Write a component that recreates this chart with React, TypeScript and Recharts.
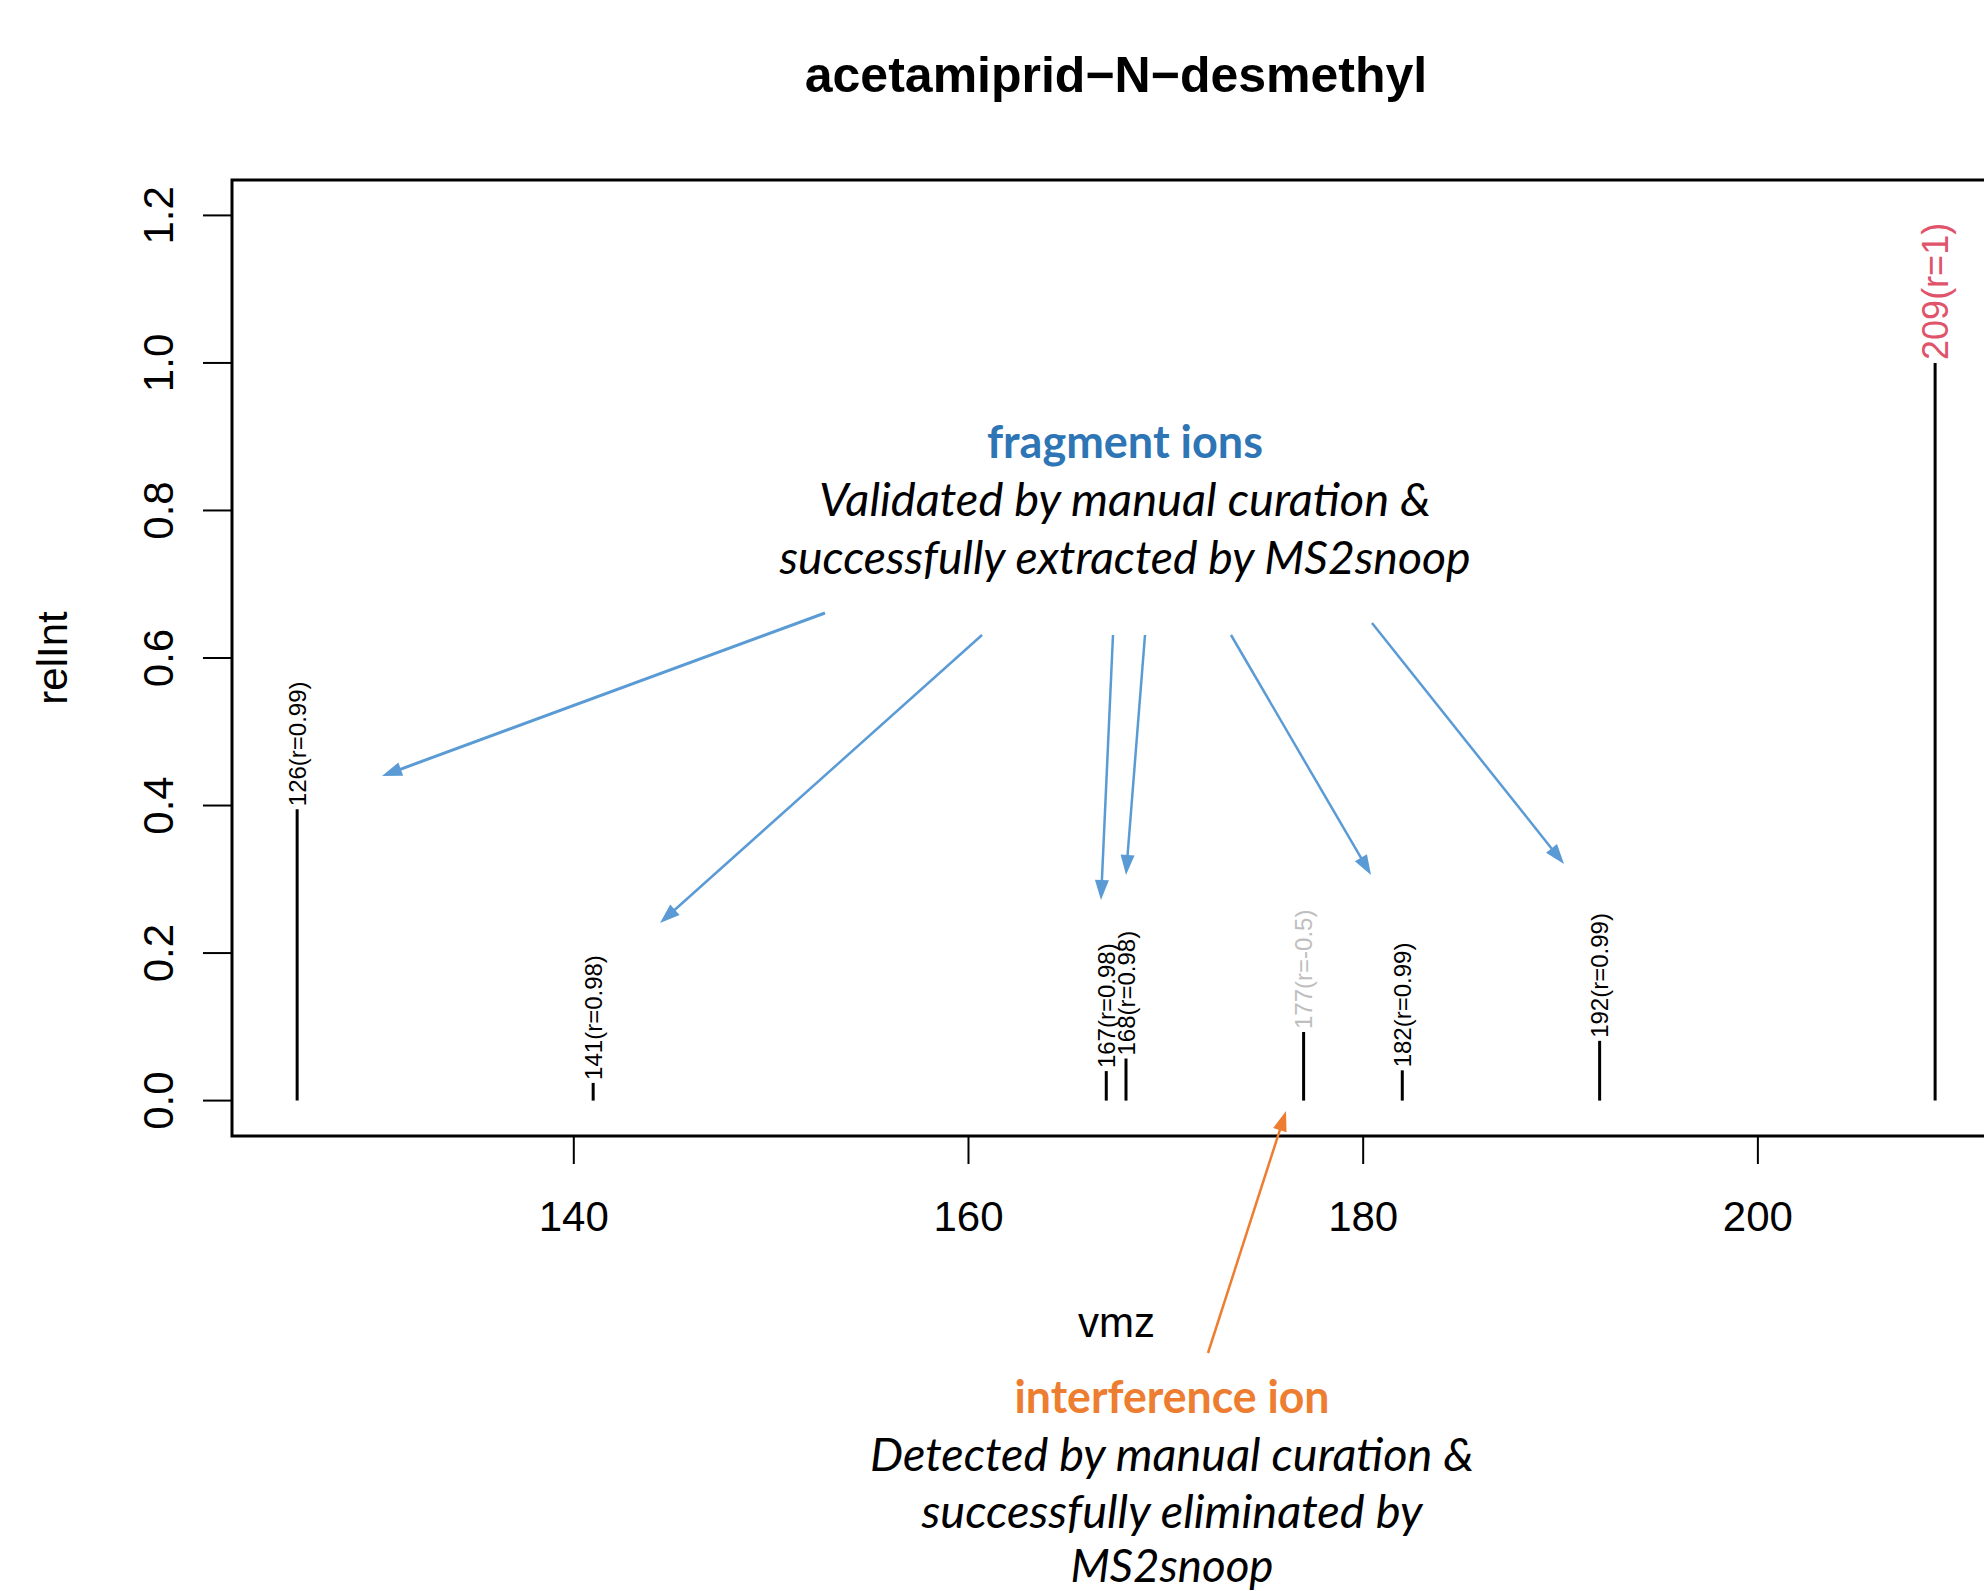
import React from 'react';
import { BarChart, Bar, XAxis, YAxis, LabelList, ReferenceArea, Label } from 'recharts';

// ---- data ----
const mzValues = [126, 141, 167, 168, 177, 182, 192, 209];
const relIntValues = [0.395, 0.024, 0.04, 0.057, 0.093, 0.041, 0.081, 1.0];
const corrValues = [0.99, 0.98, 0.98, 0.98, -0.5, 0.99, 0.99, 1];
const xTicks = [140, 160, 180, 200];
const yTicks = [0, 0.2, 0.4, 0.6, 0.8, 1.0, 1.2];
const yLimits = [0, 1.2];
const titleText = 'acetamiprid−N−desmethyl';
const xTitle = 'vmz';
const yTitle = 'relInt';

const rows = mzValues.map((mz, i) => ({
  mz,
  relInt: relIntValues[i],
  r: corrValues[i],
  label: `${mz}(r=${corrValues[i]})`,
}));

// R-style 4% axis extension
const xMin = Math.min(...mzValues);
const xMax = Math.max(...mzValues);
const xPad = (xMax - xMin) * 0.04;
const xDomain: [number, number] = [xMin - xPad, xMax + xPad];
const yPad = (yLimits[1] - yLimits[0]) * 0.04;
const yDomain: [number, number] = [yLimits[0] - yPad, yLimits[1] + yPad];

const RFONT = '"Liberation Sans", Arial, Helvetica, sans-serif';
const NOTE_FONT = 'Lato, "Open Sans", sans-serif';

const XTick = (props: any) => {
  const { x, y, payload } = props;
  return (
    <text x={x} y={y + 67} textAnchor="middle" fontSize={42} fontFamily={RFONT} fill="#000">
      {payload.value}
    </text>
  );
};

const YTick = (props: any) => {
  const { x, y, payload } = props;
  return (
    <text
      transform={`translate(${x - 30},${y}) rotate(-90)`}
      textAnchor="middle"
      fontSize={42}
      fontFamily={RFONT}
      fill="#000"
    >
      {Number(payload.value).toFixed(1)}
    </text>
  );
};

const PeakLabel = (props: any) => {
  const { x, y, width, value, index } = props;
  const r = rows[index]?.r ?? 1;
  const isPrecursor = r === 1;
  const color = isPrecursor ? '#DF536B' : r < 0.9 ? '#BEBEBE' : '#000';
  const size = isPrecursor ? 36 : 24;
  const cx = x + width / 2;
  return (
    <text
      transform={`translate(${cx},${y - 3}) rotate(-90)`}
      textAnchor="start"
      dominantBaseline="central"
      fontSize={size}
      fontFamily={RFONT}
      fill={color}
    >
      {value}
    </text>
  );
};

const YTitle = (props: any) => {
  const vb = props.viewBox || { x: 0, y: 180, width: 232, height: 956 };
  return (
    <text
      transform={`translate(${vb.x + 67},${vb.y + vb.height / 2}) rotate(-90)`}
      textAnchor="middle"
      fontSize={42}
      fontFamily={RFONT}
      fill="#000"
    >
      {yTitle}
    </text>
  );
};

const XTitle = (props: any) => {
  const vb = props.viewBox || { x: 232, y: 1136, width: 1769, height: 100 };
  return (
    <text x={vb.x + vb.width / 2} y={vb.y + 201} textAnchor="middle" fontSize={42} fontFamily={RFONT} fill="#000">
      {xTitle}
    </text>
  );
};

type Arrow = { x1: number; y1: number; x2: number; y2: number; color: string; w: number };
const arrowHead = (a: Arrow) => {
  const dx = a.x2 - a.x1;
  const dy = a.y2 - a.y1;
  const len = Math.hypot(dx, dy);
  const ux = dx / len;
  const uy = dy / len;
  const L = 20;
  const H = 7;
  const bx = a.x2 - ux * L;
  const by = a.y2 - uy * L;
  const p1 = `${a.x2},${a.y2}`;
  const p2 = `${bx - uy * H},${by + ux * H}`;
  const p3 = `${bx + uy * H},${by - ux * H}`;
  return { pts: `${p1} ${p2} ${p3}`, lx: a.x2 - ux * (L - 2), ly: a.y2 - uy * (L - 2) };
};

const BLUE = '#5B9BD5';
const ORANGE = '#ED7D31';
const arrows: Arrow[] = [
  { x1: 825, y1: 613, x2: 382, y2: 776, color: BLUE, w: 3 },
  { x1: 982, y1: 635, x2: 660, y2: 923, color: BLUE, w: 2.5 },
  { x1: 1113, y1: 635, x2: 1101, y2: 900, color: BLUE, w: 2.5 },
  { x1: 1145, y1: 635, x2: 1126, y2: 875, color: BLUE, w: 2.5 },
  { x1: 1231, y1: 635, x2: 1371, y2: 875, color: BLUE, w: 2.5 },
  { x1: 1372, y1: 623, x2: 1564, y2: 864, color: BLUE, w: 2.5 },
  { x1: 1208, y1: 1353, x2: 1286, y2: 1111, color: ORANGE, w: 2.5 },
];

const Overlay = () => (
  <svg
    width={1984}
    height={1591}
    style={{ position: 'absolute', left: 0, top: 0, pointerEvents: 'none' }}
  >
    <text x={1116} y={92} textAnchor="middle" fontSize={50} fontWeight="bold" fontFamily={RFONT} fill="#000">
      {titleText}
    </text>

    <text x={1125} y={458} textAnchor="middle" fontSize={46} fontWeight="bold" fontFamily={NOTE_FONT} fill="#2E75B6" textLength={276} lengthAdjust="spacingAndGlyphs">
      fragment ions
    </text>
    <text x={1125} y={516} textAnchor="middle" fontSize={46} fontStyle="italic" fontFamily={NOTE_FONT} fill="#000" textLength={612} lengthAdjust="spacingAndGlyphs">
      Validated by manual curation &amp;
    </text>
    <text x={1125} y={574} textAnchor="middle" fontSize={46} fontStyle="italic" fontFamily={NOTE_FONT} fill="#000" textLength={691} lengthAdjust="spacingAndGlyphs">
      successfully extracted by MS2snoop
    </text>

    <text x={1172} y={1413} textAnchor="middle" fontSize={46} fontWeight="bold" fontFamily={NOTE_FONT} fill={ORANGE} textLength={315} lengthAdjust="spacingAndGlyphs">
      interference ion
    </text>
    <text x={1172} y={1471} textAnchor="middle" fontSize={46} fontStyle="italic" fontFamily={NOTE_FONT} fill="#000" textLength={604} lengthAdjust="spacingAndGlyphs">
      Detected by manual curation &amp;
    </text>
    <text x={1172} y={1528} textAnchor="middle" fontSize={46} fontStyle="italic" fontFamily={NOTE_FONT} fill="#000" textLength={501} lengthAdjust="spacingAndGlyphs">
      successfully eliminated by
    </text>
    <text x={1172} y={1582} textAnchor="middle" fontSize={46} fontStyle="italic" fontFamily={NOTE_FONT} fill="#000" textLength={203} lengthAdjust="spacingAndGlyphs">
      MS2snoop
    </text>

    {arrows.map((a, i) => {
      const h = arrowHead(a);
      return (
        <g key={i}>
          <line x1={a.x1} y1={a.y1} x2={h.lx} y2={h.ly} stroke={a.color} strokeWidth={a.w} />
          <polygon points={h.pts} fill={a.color} />
        </g>
      );
    })}
  </svg>
);

export default function App() {
  return (
    <div
      style={{
        position: 'fixed',
        left: 0,
        top: 0,
        width: 1984,
        height: 1591,
        overflow: 'hidden',
        background: '#fff',
      }}
    >
      <BarChart
        width={2040}
        height={1591}
        data={rows}
        margin={{ top: 180, right: 39, bottom: 355, left: 0 }}
      >
        <XAxis
          dataKey="mz"
          type="number"
          domain={xDomain}
          ticks={xTicks}
          interval={0}
          allowDataOverflow
          axisLine={false}
          tickLine={{ stroke: '#000', strokeWidth: 2 }}
          tickSize={28}
          tickMargin={0}
          height={100}
          tick={<XTick />}
        >
          <Label content={<XTitle />} />
        </XAxis>
        <YAxis
          type="number"
          domain={yDomain}
          ticks={yTicks}
          interval={0}
          allowDataOverflow
          axisLine={false}
          tickLine={{ stroke: '#000', strokeWidth: 2 }}
          tickSize={29}
          tickMargin={0}
          width={232}
          tick={<YTick />}
        >
          <Label content={<YTitle />} />
        </YAxis>
        <ReferenceArea
          x1={xDomain[0]}
          x2={xDomain[1]}
          y1={yDomain[0]}
          y2={yDomain[1]}
          fill="none"
          fillOpacity={0}
          stroke="#000"
          strokeWidth={3}
          ifOverflow="visible"
        />
        <Bar dataKey="relInt" fill="#000" barSize={3} isAnimationActive={false}>
          <LabelList dataKey="label" content={<PeakLabel />} />
        </Bar>
      </BarChart>
      <Overlay />
    </div>
  );
}
